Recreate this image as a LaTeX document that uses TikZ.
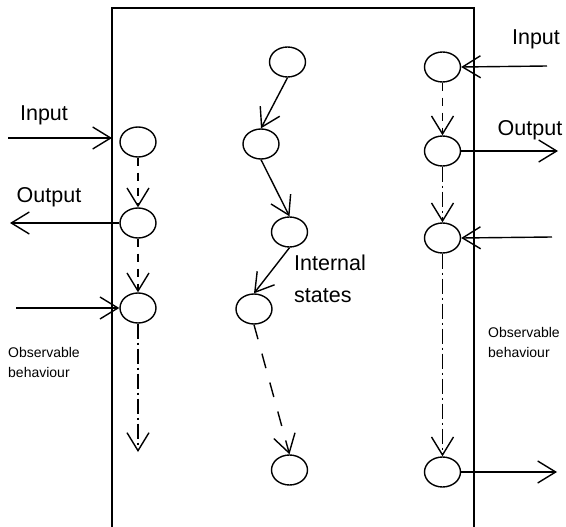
\documentclass[tikz,border=0pt]{standalone}
\usepackage{fontspec}
\setmainfont{Liberation Sans}
\usetikzlibrary{arrows.meta,shapes.geometric}
\begin{document}
\begin{tikzpicture}[x=1pt,y=-1pt,
  st/.style={ellipse,draw,line width=1.4pt,minimum width=36pt,minimum height=30pt,inner sep=0pt},
  arr/.style={line width=1.4pt,-{Straight Barb[length=18pt,width=22pt,line width=1.4pt]}},
  shortdash/.style={dash pattern=on 8pt off 7pt},
  longdash/.style={dash pattern=on 15pt off 15pt},
  dashdot/.style={dash pattern=on 15pt off 4pt on 2pt off 4pt},
  big/.style={font=\fontsize{21.5}{25}\selectfont,inner sep=0pt},
  small/.style={font=\fontsize{14}{17}\selectfont,inner sep=0pt,anchor=base west}]
\useasboundingbox (0,0) rectangle (566,527);
% box
\draw[line width=2pt] (112,527) -- (112,8) -- (474,8) -- (474,527);
% left column
\node[st] (L1) at (138,142) {};
\node[st] (L2) at (138,223) {};
\node[st] (L3) at (138,308) {};
\coordinate (Lend) at (138,452);
\draw[arr,shortdash] (L1.south) -- (L2.north);
\draw[arr,shortdash] (L2.south) -- (L3.north);
\draw[arr,dashdot] (L3.south) -- (Lend);
\coordinate (inL) at (8,138);
\coordinate (inLb) at (112,138);
\coordinate (outL) at (10,223);
\coordinate (in2L) at (16,308);
\draw[arr] (inL) -- (inLb);
\draw[arr] (L2.west) -- (outL);
\draw[arr] (in2L) -- (L3.west);
\node[big,anchor=base] (tinL) at (44,121) {Input};
\node[big,anchor=base] (toutL) at (49,203) {Output};
\node[small] (obsL1) at (8,357) {Observable};
\node[small] (obsL2) at (8,377) {behaviour};
% middle column
\node[st] (M1) at (287.5,62) {};
\node[st] (M2) at (261,144) {};
\node[st] (M3) at (289.5,232) {};
\node[st] (M4) at (254,309) {};
\node[st] (M5) at (289.5,470) {};
\draw[arr] (M1.south) -- (M2.north);
\draw[arr] (M2.south) -- (M3.north);
\draw[arr] (M3.south) -- (M4.north);
\draw[arr,longdash] (M4.south) -- (M5.north);
\node[big,anchor=base west] (int1) at (294,270) {Internal};
\node[big,anchor=base west] (int2) at (294,302) {states};
% right column
\node[st] (R1) at (442.5,67) {};
\node[st] (R2) at (442.5,151) {};
\node[st] (R3) at (442.5,238) {};
\node[st] (R4) at (442.5,472) {};
\draw[arr,shortdash] (R1.south) -- (R2.north);
\draw[arr,dashdot] (R2.south) -- (R3.north);
\draw[arr,dashdot] (R3.south) -- (R4.north);
\coordinate (inR) at (547,66);
\coordinate (outR) at (558,151);
\coordinate (in2R) at (552,237);
\coordinate (out2R) at (557,472);
\draw[arr] (inR) -- (R1.east);
\draw[arr] (R2.east) -- (outR);
\draw[arr] (in2R) -- (R3.east);
\draw[arr] (R4.east) -- (out2R);
\node[big,anchor=base] (tinR) at (536,45) {Input};
\node[big,anchor=base] (toutR) at (530,136) {Output};
\node[small] (obsR1) at (488,337) {Observable};
\node[small] (obsR2) at (488,357) {behaviour};
\end{tikzpicture}
\end{document}
